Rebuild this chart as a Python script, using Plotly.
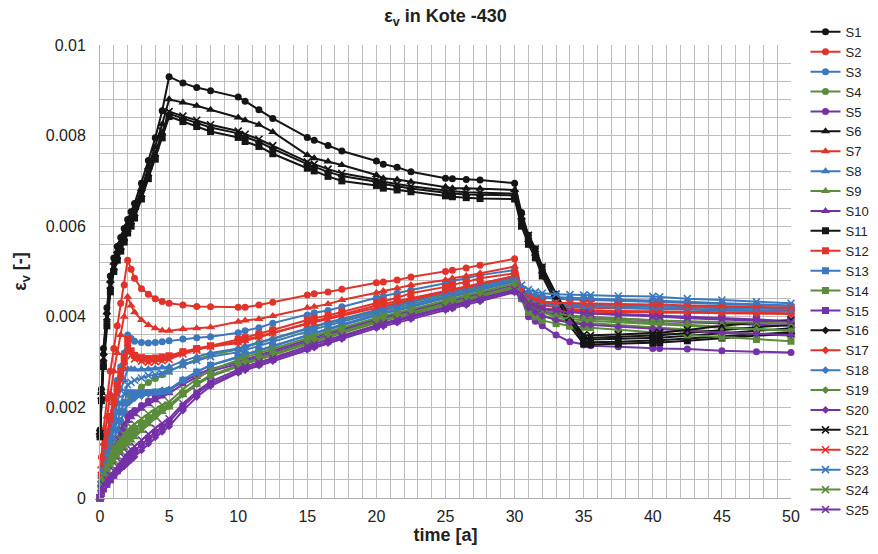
import plotly.graph_objects as go

# sampling times [a]
TIME = [0, 0.1, 0.25, 0.5, 0.75, 1, 1.25, 1.5, 1.75, 2, 2.25, 2.5, 3, 3.5, 4, 4.5, 5,
        6, 7, 8, 10, 10.5, 11.5, 12.5, 15, 15.5, 16.5, 17.5, 20, 20.5, 21.5, 22.5,
        25, 25.5, 26.5, 27.5, 30, 30.5, 31, 31.5, 32, 33, 34, 35, 35.5, 37.5, 40,
        40.5, 42.5, 45, 47.5, 50]

# volumetric strain eps_v per station
S1 = [0.00150, 0.00240, 0.00330, 0.00420, 0.00490, 0.00530, 0.00555, 0.00575, 0.00595, 0.00615, 0.00632, 0.00650, 0.00695, 0.00745, 0.00795, 0.00855,
      0.00930, 0.00916, 0.00906, 0.00899, 0.00885, 0.00876, 0.00857, 0.00838, 0.00796, 0.00790, 0.00778, 0.00766, 0.00744, 0.00737, 0.00730, 0.00720, 0.00706, 0.00705, 0.00703, 0.00702, 0.00695,
      0.0063, 0.0058, 0.0055, 0.0051, 0.0045, 0.0040, 0.00352, 0.0035, 0.00351, 0.00353, 0.00354, 0.00358, 0.00363, 0.00369, 0.00375]
S2 = [0, 0.0009, 0.0015, 0.0022, 0.0028, 0.0033, 0.0038, 0.0043, 0.0047, 0.00525, 0.00505, 0.00485, 0.00462, 0.0045, 0.0044, 0.00434, 0.0043,
      0.00426, 0.00423, 0.00422, 0.00421, 0.00421, 0.00426, 0.00432, 0.00448, 0.00451, 0.00455, 0.00461, 0.00475, 0.00477, 0.00481, 0.00488, 0.00500, 0.00503, 0.00508, 0.00514, 0.00528,
      0.0046, 0.00435, 0.00428, 0.00425, 0.00422, 0.0042, 0.0042, 0.0042, 0.00419, 0.00418, 0.00418, 0.00417, 0.00415, 0.00414, 0.00413]
S3 = [0, 0.0005, 0.0009, 0.0014, 0.0018, 0.0022, 0.0026, 0.0029, 0.0032, 0.0036, 0.00352, 0.00346, 0.00343, 0.00342, 0.00343, 0.00345, 0.00347,
      0.00351, 0.00354, 0.00356, 0.00365, 0.00369, 0.00376, 0.00386, 0.00404, 0.00409, 0.00414, 0.00422, 0.00442, 0.00446, 0.00452, 0.00459, 0.00474, 0.00479, 0.00485, 0.00492, 0.00503,
      0.0046, 0.00452, 0.00447, 0.00445, 0.00443, 0.00442, 0.00441, 0.0044, 0.00438, 0.00436, 0.00436, 0.00433, 0.0043, 0.00427, 0.00425]
S4 = [0, 0.0003, 0.0005, 0.0008, 0.0011, 0.0013, 0.0015, 0.0017, 0.0019, 0.0021, 0.0022, 0.00232, 0.00245, 0.00255, 0.00264, 0.00272, 0.0028,
      0.00294, 0.00306, 0.00316, 0.00328, 0.00333, 0.00342, 0.0035, 0.00373, 0.00377, 0.00386, 0.00393, 0.00414, 0.00418, 0.00425, 0.00432, 0.0045, 0.00453, 0.0046, 0.00467, 0.00485,
      0.0045, 0.0043, 0.0042, 0.00412, 0.00405, 0.004, 0.00397, 0.00396, 0.00392, 0.00387, 0.00386, 0.00382, 0.00377, 0.00373, 0.0037]
S5 = [0, 0.0003, 0.0005, 0.0007, 0.0009, 0.0011, 0.0013, 0.0015, 0.0016, 0.0018, 0.00187, 0.00193, 0.00204, 0.00214, 0.00223, 0.00231, 0.00238,
      0.00257, 0.00272, 0.00285, 0.003, 0.00306, 0.00315, 0.00325, 0.00349, 0.00354, 0.00364, 0.00372, 0.00395, 0.00399, 0.00406, 0.00414, 0.00433, 0.00436, 0.00444, 0.00451, 0.0047,
      0.0044, 0.004, 0.0039, 0.0038, 0.0036, 0.00345, 0.00338, 0.00336, 0.00334, 0.0033, 0.0033, 0.00329, 0.00325, 0.00323, 0.00321]
S6 = [0.00145, 0.00232, 0.00320, 0.00410, 0.00480, 0.00520, 0.00545, 0.00565, 0.00585, 0.00605, 0.00622, 0.00640, 0.00682, 0.00730, 0.00775, 0.00825,
      0.00880, 0.00873, 0.00866, 0.00857, 0.00840, 0.00834, 0.00824, 0.00808, 0.00757, 0.00750, 0.00743, 0.00735, 0.00713, 0.00706, 0.00703, 0.00698, 0.00687, 0.00684, 0.00684, 0.00683, 0.00680,
      0.0062, 0.0057, 0.0054, 0.0050, 0.0044, 0.0039, 0.00345, 0.00344, 0.00345, 0.00347, 0.00348, 0.00352, 0.00357, 0.00362, 0.00366]
S7 = [0, 0.0007, 0.0012, 0.0018, 0.0023, 0.0028, 0.0032, 0.0036, 0.0040, 0.00444, 0.00425, 0.0041, 0.00393, 0.00382, 0.00375, 0.0037, 0.00369,
      0.00373, 0.00375, 0.00377, 0.00389, 0.00392, 0.00395, 0.00402, 0.00420, 0.00422, 0.00428, 0.00437, 0.00453, 0.00457, 0.00463, 0.00470, 0.00481, 0.00485, 0.00490, 0.00496, 0.00511,
      0.0046, 0.0044, 0.00433, 0.0043, 0.00428, 0.00426, 0.00425, 0.00425, 0.00424, 0.00423, 0.00423, 0.00422, 0.00421, 0.0042, 0.0042]
S8 = [0, 0.0004, 0.0007, 0.0011, 0.0015, 0.0018, 0.0021, 0.0024, 0.0026, 0.00285, 0.00285, 0.00284, 0.00284, 0.00285, 0.00286, 0.00288, 0.0029,
      0.00302, 0.00312, 0.0032, 0.0033, 0.00335, 0.00344, 0.00352, 0.00375, 0.00379, 0.00388, 0.00395, 0.00416, 0.0042, 0.00427, 0.00434, 0.00452, 0.00455, 0.00462, 0.00469, 0.00487,
      0.0046, 0.0045, 0.00445, 0.00442, 0.0044, 0.00438, 0.00437, 0.00437, 0.00435, 0.00433, 0.00433, 0.0043, 0.00428, 0.00426, 0.00424]
S9 = [0, 0.0002, 0.0003, 0.0005, 0.0007, 0.0008, 0.0009, 0.0010, 0.0011, 0.0012, 0.00127, 0.00134, 0.00148, 0.00163, 0.00177, 0.0019, 0.002,
      0.00227, 0.0025, 0.00268, 0.0029, 0.00296, 0.00306, 0.00315, 0.00341, 0.00346, 0.00356, 0.00364, 0.00388, 0.00392, 0.004, 0.00407, 0.00427, 0.0043, 0.00438, 0.00446, 0.00465,
      0.0045, 0.0042, 0.0041, 0.00403, 0.00395, 0.0039, 0.00387, 0.00386, 0.00381, 0.00376, 0.00375, 0.00371, 0.00366, 0.00362, 0.00358]
S10 = [0, 0.0003, 0.0005, 0.0007, 0.0009, 0.0011, 0.0012, 0.0014, 0.0015, 0.0017, 0.00178, 0.00185, 0.00197, 0.00207, 0.00216, 0.00224, 0.00231,
       0.00251, 0.00267, 0.0028, 0.00296, 0.00302, 0.00311, 0.00321, 0.00346, 0.00351, 0.0036, 0.00369, 0.00392, 0.00396, 0.00403, 0.00411, 0.0043, 0.00434, 0.00441, 0.00449, 0.00468,
       0.0045, 0.0043, 0.0042, 0.00413, 0.00406, 0.00402, 0.004, 0.00399, 0.00396, 0.00392, 0.00391, 0.00388, 0.00385, 0.00382, 0.0038]
S11 = [0.00135, 0.00215, 0.00290, 0.00380, 0.00455, 0.00500, 0.00525, 0.00545, 0.00565, 0.00585, 0.00600, 0.00618, 0.00660, 0.00705, 0.00748, 0.00795,
       0.00842, 0.00831, 0.00820, 0.00809, 0.00796, 0.00787, 0.00776, 0.00760, 0.00728, 0.00722, 0.00710, 0.00700, 0.00690, 0.00684, 0.00680, 0.00676, 0.00667, 0.00665, 0.00663, 0.00661, 0.00660,
       0.0060, 0.0056, 0.0053, 0.0049, 0.0043, 0.0038, 0.0034, 0.00339, 0.0034, 0.00342, 0.00343, 0.00347, 0.00353, 0.00358, 0.00363]
S12 = [0, 0.0005, 0.0009, 0.0014, 0.0018, 0.0022, 0.0025, 0.0028, 0.0031, 0.0035, 0.00325, 0.00315, 0.0031, 0.00308, 0.00309, 0.00311, 0.00314,
       0.00323, 0.0033, 0.00336, 0.0035, 0.00354, 0.00362, 0.00371, 0.00393, 0.00397, 0.00403, 0.00411, 0.00431, 0.00435, 0.00442, 0.00452, 0.00466, 0.00471, 0.00477, 0.00485, 0.00496,
       0.0045, 0.0043, 0.00422, 0.00418, 0.00416, 0.00415, 0.00414, 0.00414, 0.00413, 0.00412, 0.00412, 0.00411, 0.0041, 0.00409, 0.00408]
S13 = [0, 0.0003, 0.0006, 0.0009, 0.0012, 0.0015, 0.0017, 0.0019, 0.0021, 0.00232, 0.00232, 0.00231, 0.00232, 0.00233, 0.00234, 0.00235, 0.00237,
       0.0026, 0.00278, 0.00293, 0.00312, 0.00318, 0.00327, 0.00336, 0.0036, 0.00365, 0.00374, 0.00383, 0.00405, 0.00409, 0.00416, 0.00424, 0.00443, 0.00446, 0.00454, 0.00461, 0.0048,
       0.0045, 0.0044, 0.00432, 0.00428, 0.00425, 0.00423, 0.00422, 0.00422, 0.0042, 0.00419, 0.00418, 0.00416, 0.00414, 0.00413, 0.00412]
S14 = [0, 0.0002, 0.0004, 0.0006, 0.0008, 0.0010, 0.0011, 0.0012, 0.0013, 0.0014, 0.00147, 0.00153, 0.00165, 0.00177, 0.00188, 0.00197, 0.00205,
       0.00231, 0.00253, 0.00271, 0.00293, 0.00299, 0.00309, 0.00318, 0.00343, 0.00348, 0.00358, 0.00367, 0.0039, 0.00394, 0.00402, 0.00409, 0.00429, 0.00432, 0.0044, 0.00448, 0.00467,
       0.0044, 0.0041, 0.004, 0.00392, 0.00385, 0.0038, 0.00377, 0.00376, 0.00371, 0.00366, 0.00365, 0.0036, 0.00355, 0.0035, 0.00346]
S15 = [0, 0.0001, 0.0002, 0.0003, 0.0004, 0.0005, 0.0006, 0.0007, 0.0008, 0.0009, 0.00097, 0.00104, 0.00118, 0.00132, 0.00145, 0.00157, 0.00168,
       0.00202, 0.0023, 0.00252, 0.0028, 0.00286, 0.00296, 0.00306, 0.00331, 0.00336, 0.00346, 0.00355, 0.00379, 0.00383, 0.00391, 0.00399, 0.00418, 0.00422, 0.0043, 0.00438, 0.00457,
       0.0045, 0.0043, 0.00423, 0.00418, 0.00414, 0.00411, 0.00409, 0.00408, 0.00406, 0.00403, 0.00402, 0.004, 0.00397, 0.00394, 0.00391]
S16 = [0.00140, 0.00220, 0.00300, 0.00390, 0.00462, 0.00505, 0.00530, 0.00550, 0.00570, 0.00590, 0.00606, 0.00624, 0.00666, 0.00712, 0.00755, 0.00802,
       0.00848, 0.00838, 0.00828, 0.00818, 0.00805, 0.00797, 0.00786, 0.00771, 0.00737, 0.00731, 0.00720, 0.00711, 0.00698, 0.00693, 0.00688, 0.00683, 0.00674, 0.00672, 0.00670, 0.00669, 0.00668,
       0.0061, 0.0057, 0.0054, 0.0050, 0.0044, 0.0039, 0.00355, 0.00354, 0.00356, 0.00358, 0.00359, 0.00364, 0.00371, 0.00377, 0.00382]
S17 = [0, 0.0005, 0.0009, 0.0013, 0.0017, 0.0021, 0.0024, 0.0027, 0.0030, 0.0034, 0.0032, 0.0031, 0.00305, 0.00303, 0.00304, 0.00306, 0.0031,
       0.0032, 0.00328, 0.00334, 0.00342, 0.00347, 0.00355, 0.00364, 0.00385, 0.0039, 0.00398, 0.00405, 0.00425, 0.00428, 0.00435, 0.00441, 0.00457, 0.00461, 0.00467, 0.00474, 0.0049,
       0.0045, 0.00428, 0.0042, 0.00416, 0.00413, 0.00412, 0.00411, 0.00411, 0.0041, 0.0041, 0.00409, 0.00409, 0.00408, 0.00407, 0.00406]
S18 = [0, 0.0003, 0.0005, 0.0008, 0.0011, 0.0013, 0.0015, 0.0017, 0.0019, 0.0021, 0.00215, 0.0022, 0.00225, 0.0023, 0.00234, 0.00238, 0.0024,
       0.00261, 0.00279, 0.00293, 0.0031, 0.00316, 0.00325, 0.00334, 0.00358, 0.00363, 0.00372, 0.00381, 0.00403, 0.00407, 0.00414, 0.00422, 0.00441, 0.00444, 0.00452, 0.00459, 0.00478,
       0.00455, 0.00445, 0.00438, 0.00434, 0.0043, 0.00428, 0.00427, 0.00426, 0.00425, 0.00423, 0.00423, 0.00421, 0.00419, 0.00418, 0.00416]
S19 = [0, 0.0002, 0.0004, 0.0006, 0.0008, 0.0009, 0.0010, 0.0011, 0.0012, 0.0013, 0.00137, 0.00144, 0.00158, 0.00171, 0.00183, 0.00193, 0.00202,
       0.00229, 0.00251, 0.00269, 0.00291, 0.00297, 0.00306, 0.00316, 0.00341, 0.00346, 0.00355, 0.00364, 0.00387, 0.00391, 0.00399, 0.00406, 0.00426, 0.00429, 0.00437, 0.00445, 0.00464,
       0.0045, 0.0043, 0.00418, 0.0041, 0.004, 0.00395, 0.00392, 0.00391, 0.00388, 0.00384, 0.00383, 0.0038, 0.00376, 0.00372, 0.00369]
S20 = [0, 0.0001, 0.0002, 0.0003, 0.0004, 0.0005, 0.00057, 0.00064, 0.0007, 0.00077, 0.00084, 0.00091, 0.00105, 0.0012, 0.00134, 0.00146, 0.00158,
       0.00193, 0.00223, 0.00247, 0.00276, 0.00282, 0.00292, 0.00302, 0.00327, 0.00332, 0.00342, 0.00351, 0.00375, 0.00379, 0.00387, 0.00395, 0.00415, 0.00418, 0.00426, 0.00434, 0.00454,
       0.0044, 0.0042, 0.0041, 0.00402, 0.00393, 0.00387, 0.00383, 0.00382, 0.00378, 0.00374, 0.00373, 0.00369, 0.00365, 0.00362, 0.0036]
S21 = [0.00142, 0.00226, 0.00310, 0.00400, 0.00470, 0.00510, 0.00535, 0.00555, 0.00575, 0.00595, 0.00612, 0.00630, 0.00672, 0.00718, 0.00762, 0.00810,
       0.00853, 0.00843, 0.00834, 0.00824, 0.00810, 0.00803, 0.00792, 0.00778, 0.00742, 0.00737, 0.00726, 0.00717, 0.00703, 0.00698, 0.00693, 0.00688, 0.00679, 0.00677, 0.00675, 0.00674, 0.00672,
       0.0062, 0.0058, 0.0055, 0.0051, 0.0045, 0.0040, 0.0036, 0.00359, 0.00361, 0.00363, 0.00365, 0.00371, 0.0038, 0.00387, 0.00393]
S22 = [0, 0.0005, 0.0008, 0.0012, 0.0016, 0.0020, 0.0023, 0.0026, 0.0029, 0.0033, 0.00315, 0.00307, 0.00302, 0.003, 0.00301, 0.00303, 0.00306,
       0.00318, 0.00327, 0.00335, 0.00345, 0.0035, 0.00357, 0.00365, 0.00384, 0.00388, 0.00395, 0.00402, 0.0042, 0.00424, 0.00431, 0.00438, 0.00455, 0.00459, 0.00466, 0.00473, 0.0049,
       0.0046, 0.00445, 0.00438, 0.00434, 0.00431, 0.0043, 0.00429, 0.00429, 0.00428, 0.00427, 0.00427, 0.00425, 0.00424, 0.00422, 0.0042]
S23 = [0, 0.0004, 0.0006, 0.0010, 0.0013, 0.0016, 0.0019, 0.0021, 0.0023, 0.0025, 0.00255, 0.0026, 0.00265, 0.0027, 0.00272, 0.00275, 0.0028,
       0.00293, 0.00303, 0.00312, 0.00322, 0.00327, 0.00336, 0.00345, 0.00368, 0.00372, 0.00381, 0.00389, 0.0041, 0.00414, 0.00421, 0.00428, 0.00446, 0.0045, 0.00457, 0.00464, 0.00482,
       0.0047, 0.0046, 0.00455, 0.00452, 0.0045, 0.00449, 0.00448, 0.00448, 0.00446, 0.00445, 0.00444, 0.0044, 0.00437, 0.00433, 0.0043]
S24 = [0, 0.0003, 0.0005, 0.0007, 0.0009, 0.0011, 0.0012, 0.0013, 0.0014, 0.0015, 0.00157, 0.00163, 0.00175, 0.00186, 0.00196, 0.00205, 0.00212,
       0.0024, 0.00263, 0.00282, 0.00305, 0.00311, 0.0032, 0.00329, 0.00353, 0.00358, 0.00367, 0.00376, 0.00398, 0.00402, 0.00409, 0.00417, 0.00436, 0.0044, 0.00447, 0.00455, 0.00474,
       0.0045, 0.0043, 0.00422, 0.00415, 0.00408, 0.00403, 0.004, 0.00399, 0.00396, 0.00393, 0.00392, 0.0039, 0.00388, 0.00386, 0.00385]
S25 = [0, 0.0002, 0.0003, 0.0004, 0.0005, 0.0006, 0.0007, 0.0008, 0.0009, 0.001, 0.00107, 0.00114, 0.00128, 0.00141, 0.00154, 0.00165, 0.00175,
       0.00208, 0.00235, 0.00257, 0.00284, 0.0029, 0.003, 0.00309, 0.00335, 0.0034, 0.0035, 0.00358, 0.00382, 0.00386, 0.00394, 0.00402, 0.00421, 0.00425, 0.00433, 0.00441, 0.0046,
       0.0045, 0.0043, 0.00423, 0.00418, 0.00413, 0.0041, 0.00408, 0.00407, 0.00404, 0.00401, 0.004, 0.00397, 0.00394, 0.00391, 0.00389]

SERIES = [S1, S2, S3, S4, S5, S6, S7, S8, S9, S10, S11, S12, S13, S14, S15,
          S16, S17, S18, S19, S20, S21, S22, S23, S24, S25]
NAMES = ["S%d" % (i + 1) for i in range(len(SERIES))]

Y_TICKS = [0, 0.002, 0.004, 0.006, 0.008, 0.01]
Y_TICK_TEXT = ["0", "0.002", "0.004", "0.006", "0.008", "0.01"]
X_TICKS = [0, 5, 10, 15, 20, 25, 30, 35, 40, 45, 50]

COLORS = ["#151515", "#e2332b", "#3b78bf", "#5b8c3a", "#7432a6"]
SYMBOLS = ["circle", "triangle-up", "square", "diamond", "x-thin"]
SIZES = [7, 8, 7, 6, 7]

FONT = "Liberation Sans, Arial, sans-serif"
GRID = "#bdbdbd"

fig = go.Figure()
for i, (name, vals) in enumerate(zip(NAMES, SERIES)):
    color = COLORS[i % 5]
    sym = SYMBOLS[i // 5]
    fig.add_trace(go.Scatter(
        x=TIME, y=vals, name=name, mode="lines+markers",
        line=dict(color=color, width=2),
        marker=dict(symbol=sym, size=SIZES[i // 5], color=color,
                    line=dict(color=color, width=1.6 if sym == "x-thin" else 0)),
        cliponaxis=False,
    ))

fig.update_layout(
    width=878, height=554,
    margin=dict(l=100, r=87, t=45, b=56, autoexpand=False),
    paper_bgcolor="white", plot_bgcolor="white",
    font=dict(family=FONT, size=16, color="#222"),
    title=dict(text="<b>ε<sub>v</sub> in Kote -430</b>", x=0.5, xref="paper", xanchor="center",
               y=0.971, yanchor="middle", font=dict(size=18, color="#222")),
    legend=dict(x=1.021, xanchor="left", y=1.062, yanchor="top",
                font=dict(size=13, color="#222"), tracegroupgap=0,
                bgcolor="rgba(0,0,0,0)", maxheight=545),
    showlegend=True,
)
fig.update_xaxes(
    range=[0, 50], tickvals=X_TICKS, showgrid=True, gridcolor=GRID, gridwidth=1,
    minor=dict(dtick=1, showgrid=True, gridcolor=GRID, gridwidth=1),
    zeroline=False, showline=True, linecolor="#b0b0b0", ticks="",
    tickfont=dict(size=16, color="#222"), ticklabelstandoff=4,
    title=dict(text="<b>time [a]</b>", font=dict(size=18, color="#222"), standoff=4),
)
fig.update_yaxes(
    range=[0, 0.01], tickvals=Y_TICKS, ticktext=Y_TICK_TEXT, showgrid=True,
    gridcolor=GRID, gridwidth=1,
    minor=dict(dtick=0.0004, showgrid=True, gridcolor=GRID, gridwidth=1),
    zeroline=False, showline=True, linecolor="#b0b0b0", ticks="",
    tickfont=dict(size=16, color="#222"), ticklabelstandoff=10,
    title=dict(text="<b>ε<sub>v</sub> [-]</b>", font=dict(size=18, color="#222"), standoff=14),
)

fig.write_html("out.html")
